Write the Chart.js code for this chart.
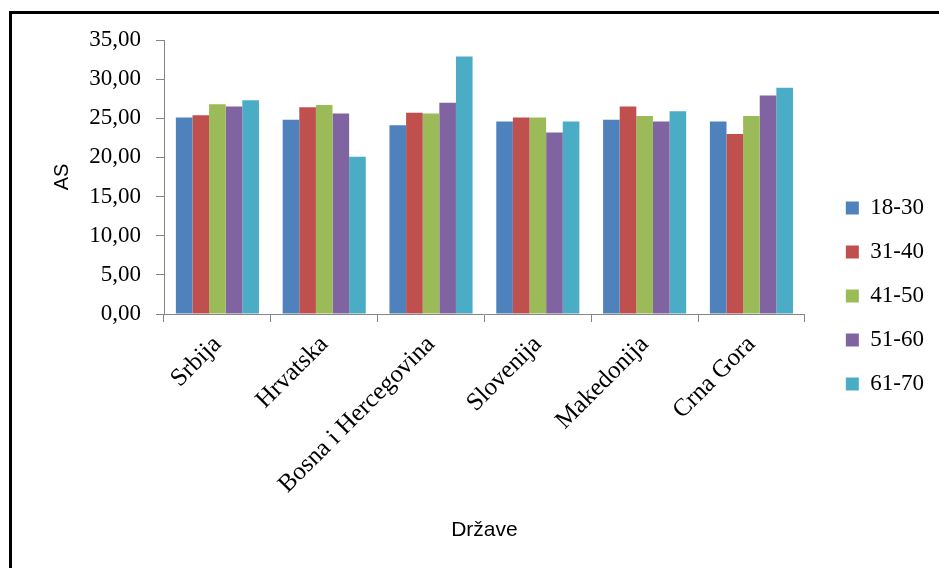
<!DOCTYPE html>
<html>
<head>
<meta charset="utf-8">
<script src="https://cdn.jsdelivr.net/npm/chart.js@4/dist/chart.umd.min.js"></script>
<style>
  html, body { margin: 0; padding: 0; background: #ffffff; }
  #wrap { position: relative; width: 939px; height: 568px; overflow: hidden; }
  #frame { position: absolute; left: 9px; top: 11px; width: 1000px; height: 700px; border: 3px solid #000; box-sizing: border-box; }
  #c { position: absolute; left: 0; top: 0; }
</style>
</head>
<body>
<div id="wrap">
  <div id="frame"></div>
  <canvas id="c" width="939" height="568"></canvas>
</div>
<script>
const categories = ['Srbija', 'Hrvatska', 'Bosna i Hercegovina', 'Slovenija', 'Makedonija', 'Crna Gora'];
const seriesNames = ['18-30', '31-40', '41-50', '51-60', '61-70'];
const s18_30 = [25.1, 24.8, 24.1, 24.6, 24.8, 24.6];
const s31_40 = [25.4, 26.4, 25.7, 25.1, 26.5, 23.0];
const s41_50 = [26.8, 26.7, 25.6, 25.1, 25.3, 25.3];
const s51_60 = [26.5, 25.6, 27.0, 23.2, 24.6, 27.9];
const s61_70 = [27.3, 20.1, 32.9, 24.6, 25.9, 28.9];
const yTicks = [0, 5, 10, 15, 20, 25, 30, 35];

const colors = ['#4F81BD', '#C0504D', '#9BBB59', '#8064A2', '#4BACC6'];
const seriesValues = [s18_30, s31_40, s41_50, s51_60, s61_70];

const legendShift = {
  id: 'legendShift',
  afterLayout(chart) {
    const l = chart.legend;
    if (!l) return;
    l.left += 20; l.right += 20;
    l.top -= 8; l.bottom -= 8;
  }
};

const AXIS = '#868686';
const SERIF = '"Liberation Serif", "Times New Roman", serif';
const SANS = '"Liberation Sans", Arial, sans-serif';

new Chart(document.getElementById('c'), {
  type: 'bar',
  data: {
    labels: categories,
    datasets: seriesNames.map((n, i) => ({
      label: n,
      data: seriesValues[i],
      backgroundColor: colors[i],
      borderWidth: 0,
      categoryPercentage: 0.778,
      barPercentage: 1.0
    }))
  },
  options: {
    responsive: false,
    animation: false,
    devicePixelRatio: 1,
    layout: { padding: { left: 0, right: 25, top: 40, bottom: 0 } },
    plugins: {
      legend: {
        position: 'right',
        labels: {
          boxWidth: 13,
          boxHeight: 13,
          padding: 21,
          color: '#000',
          font: { family: SERIF, size: 23 }
        }
      },
      tooltip: { enabled: false }
    },
    scales: {
      x: {
        offset: true,
        grid: { display: true, offset: true, drawOnChartArea: false, drawTicks: true, tickLength: 8, color: AXIS },
        border: { display: true, color: AXIS, width: 1 },
        ticks: {
          color: '#000',
          minRotation: 45,
          maxRotation: 45,
          autoSkip: false,
          padding: 8,
          font: { family: SERIF, size: 25 }
        },
        title: {
          display: true,
          text: 'Države',
          color: '#000',
          padding: { top: 0, bottom: 25 },
          font: { family: SANS, size: 21 }
        },
        afterFit(scale) { scale.height = 568 - 314; }
      },
      y: {
        min: 0,
        max: 35,
        afterBuildTicks(scale) { scale.ticks = yTicks.map(v => ({ value: v })); },
        grid: { display: true, drawOnChartArea: false, drawTicks: true, tickLength: 8, color: AXIS },
        border: { display: true, color: AXIS, width: 1 },
        ticks: {
          color: '#000',
          padding: 15,
          font: { family: SERIF, size: 23 },
          callback: v => Number(v).toFixed(2).replace('.', ',')
        },
        title: {
          display: true,
          text: 'AS',
          color: '#000',
          padding: { top: 50, bottom: 0 },
          font: { family: SANS, size: 20 }
        },
        afterFit(scale) { scale.width = 164; }
      }
    }
  },
  plugins: [legendShift]
});
</script>
</body>
</html>
